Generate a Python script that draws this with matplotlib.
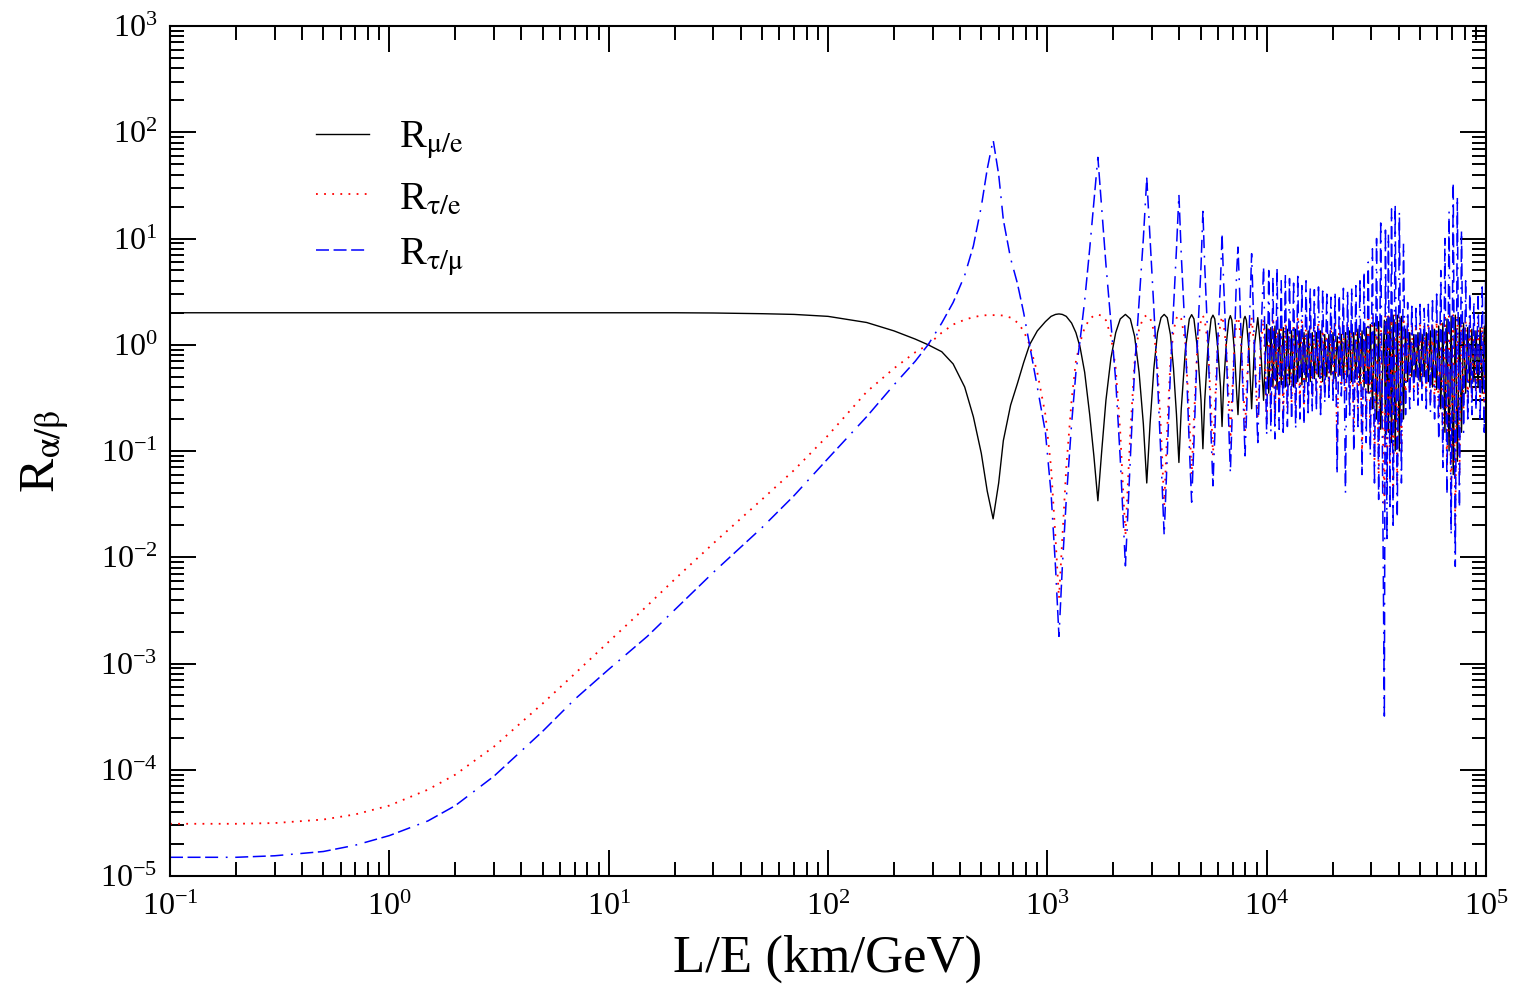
import matplotlib
matplotlib.use('Agg')
import matplotlib.pyplot as plt

plt.rcParams['font.family'] = ['Liberation Serif', 'DejaVu Serif']
plt.rcParams['mathtext.fontset'] = 'stix'
plt.rcParams['axes.unicode_minus'] = False

# smooth part of the curves, L/E in km/GeV
le_low = [0.1, 0.2, 0.3, 0.5, 0.7, 1.0, 1.5, 2.0, 3.0, 5.0, 7.0, 10, 15, 20, 30,
          50, 70, 100, 150, 200, 250]
r_mu_e_low = [2.0, 2.0, 2.0, 2.0, 2.0, 2.0, 2.0, 2.0, 2.0, 2.0, 2.0, 2.0, 2.0, 2.0,
              1.99, 1.96, 1.93, 1.85, 1.62, 1.35, 1.13]
r_tau_e_low = [3.1e-5, 3.1e-5, 3.15e-5, 3.4e-5, 3.8e-5, 4.6e-5, 6.5e-5, 9.0e-5,
               1.65e-4, 4.2e-4, 8.0e-4, 1.6e-3, 3.5e-3, 6.2e-3, 0.0135, 0.035,
               0.066, 0.14, 0.36, 0.6, 0.85]
r_tau_mu_low = [1.5e-5, 1.5e-5, 1.55e-5, 1.7e-5, 1.95e-5, 2.4e-5, 3.3e-5, 4.6e-5,
                8.7e-5, 2.3e-4, 4.6e-4, 8.8e-4, 1.8e-3, 3.2e-3, 7.2e-3, 0.019,
                0.038, 0.085, 0.21, 0.42, 0.7]

# first oscillations
le_osc = [286, 330, 372, 420, 460, 500, 532, 566, 600, 630,
          680, 730, 780, 830, 900, 980, 1040, 1090, 1130, 1170,
          1220, 1290, 1350, 1410, 1480, 1560, 1630, 1700, 1770, 1850,
          1950, 2050, 2150, 2270, 2390, 2500, 2620, 2740, 2840, 2940,
          3060, 3180, 3300, 3410, 3520, 3640, 3760, 3880, 3980, 4080,
          4260, 4440, 4550, 4660, 4840, 5020, 5120, 5220, 5400, 5580,
          5690, 5800, 5980, 6160, 6260, 6360, 6540, 6720, 6830, 6940,
          7150, 7300, 7400, 7500, 7700, 7880, 7970, 8080, 8300, 8540,
          8800, 9110, 9400, 9680]
r_mu_e_osc = [1.0, 0.86, 0.66, 0.4, 0.21, 0.095, 0.042, 0.023, 0.05, 0.125,
              0.27, 0.43, 0.68, 1.0, 1.35, 1.65, 1.85, 1.93, 1.95, 1.93,
              1.85, 1.6, 1.3, 0.95, 0.55, 0.22, 0.09, 0.034, 0.1, 0.3,
              0.75, 1.3, 1.75, 1.93, 1.75, 1.2, 0.55, 0.18, 0.05, 0.18,
              0.6, 1.3, 1.8, 1.93, 1.8, 1.25, 0.6, 0.22, 0.078, 0.25,
              0.9, 1.75, 1.92, 1.75, 0.9, 0.3, 0.105, 0.3, 0.95, 1.75,
              1.9, 1.75, 0.95, 0.4, 0.17, 0.4, 1.0, 1.7, 1.88, 1.7,
              0.8, 0.35, 0.22, 0.4, 1.1, 1.75, 1.85, 1.7, 0.9, 0.25,
              1.0, 1.8, 0.9, 0.3]
r_tau_e_osc = [1.0, 1.3, 1.55, 1.72, 1.82, 1.88, 1.9, 1.9, 1.9, 1.88,
               1.8, 1.62, 1.35, 1.0, 0.55, 0.22, 0.07, 0.015, 0.0041, 0.015,
               0.07, 0.3, 0.7, 1.05, 1.45, 1.75, 1.88, 1.92, 1.88, 1.7,
               1.2, 0.6, 0.15, 0.016, 0.15, 0.7, 1.4, 1.8, 1.9, 1.8,
               1.35, 0.6, 0.15, 0.031, 0.16, 0.7, 1.35, 1.78, 1.9, 1.75,
               1.05, 0.2, 0.06, 0.2, 1.05, 1.7, 1.88, 1.7, 1.0, 0.25,
               0.09, 0.25, 1.0, 1.6, 1.85, 1.6, 0.95, 0.3, 0.12, 0.3,
               1.15, 1.7, 1.82, 1.6, 0.8, 0.3, 0.15, 0.35, 1.0, 1.8,
               0.9, 0.2, 1.0, 1.75]
r_tau_mu_osc = [1.0, 1.6, 2.5, 4.5, 8.5, 20, 45, 85, 40, 15,
                6.5, 3.8, 2.0, 1.0, 0.4, 0.15, 0.04, 0.008, 0.0018, 0.008,
                0.035, 0.18, 0.55, 1.1, 2.6, 8, 22, 58, 19, 5.7,
                1.6, 0.46, 0.085, 0.0083, 0.085, 0.6, 2.5, 10, 37, 10,
                2.2, 0.46, 0.083, 0.016, 0.09, 0.55, 2.2, 8, 26, 7,
                1.15, 0.11, 0.033, 0.12, 1.15, 5.5, 18, 5.5, 1.05, 0.14,
                0.047, 0.14, 1.05, 4, 11, 4, 0.95, 0.18, 0.062, 0.18,
                1.4, 5, 8.3, 4, 0.75, 0.17, 0.09, 0.2, 1.1, 7.2,
                0.9, 0.12, 1.1, 5.3]

# fast oscillations above 10^4 km/GeV
le_dense = [10000, 10220, 10450, 10680, 10910, 11150, 11400, 11650, 11900, 12170,
            12430, 12710, 12990, 13270, 13560, 13860, 14170, 14480, 14800, 15120,
            15460, 15800, 16140, 16500, 16860, 17230, 17610, 18000, 18400, 18800,
            19220, 19640, 20070, 20510, 20960, 21430, 21900, 22380, 22870, 23370,
            23890, 24410, 24950, 25500, 26060, 26630, 27220, 27820, 28430, 29050,
            29690, 30350, 31010, 31700, 32400, 33110, 34400, 34800, 35340, 35900,
            36500, 37100, 37720, 38550, 39400, 40270, 41150, 42060, 42980, 43930,
            44890, 45880, 46890, 47920, 48970, 50050, 51150, 52270, 53420, 54600,
            55800, 57020, 58280, 59560, 60870, 62210, 63580, 64970, 66400, 67860,
            69350, 70880, 72440, 74030, 75660, 77320, 79020, 80760, 82540, 84350,
            86210, 88100, 90040, 92020, 94050, 96120, 98230, 100000]
r_mu_e_dense = [1.55, 0.35, 1.45, 0.4, 1.5, 0.38, 1.4, 0.42, 1.45, 0.4,
                1.4, 0.42, 1.35, 0.4, 1.4, 0.45, 1.35, 0.42, 1.3, 0.45,
                1.35, 0.45, 1.3, 0.48, 1.3, 0.5, 1.35, 0.45, 1.25, 0.5,
                1.25, 0.52, 1.3, 0.48, 1.2, 0.52, 1.25, 0.48, 1.3, 0.5,
                1.35, 0.45, 1.3, 0.48, 1.4, 0.42, 1.35, 0.4, 1.45, 0.35,
                1.55, 0.25, 1.6, 0.2, 1.65, 0.16, 1.7, 0.13, 1.75, 0.15,
                1.8, 0.12, 1.9, 0.1, 1.9, 0.1, 1.85, 0.2, 1.4, 0.45,
                1.3, 0.5, 1.25, 0.5, 1.3, 0.45, 1.25, 0.5, 1.3, 0.45,
                1.35, 0.4, 1.4, 0.38, 1.5, 0.25, 1.6, 0.15, 1.75, 0.1,
                1.85, 0.06, 1.9, 0.08, 1.8, 0.15, 1.6, 0.35, 1.45, 0.4,
                1.4, 0.45, 1.35, 0.4, 1.45, 0.35, 1.5, 0.3]
r_tau_e_dense = [0.2, 1.8, 0.22, 1.8, 0.2, 1.75, 0.25, 1.8, 0.22, 1.75,
                 0.25, 1.75, 0.28, 1.7, 0.25, 1.75, 0.3, 1.7, 0.28, 1.7,
                 0.3, 1.7, 0.32, 1.65, 0.35, 1.6, 0.3, 1.65, 0.38, 1.6,
                 0.4, 1.5, 0.38, 1.55, 0.12, 1.5, 0.4, 1.55, 0.35, 1.6,
                 0.3, 1.6, 0.15, 1.65, 0.25, 1.6, 0.1, 1.7, 0.2, 1.75,
                 0.15, 1.8, 0.08, 1.8, 0.06, 1.85, 0.03, 1.85, 0.05, 1.85,
                 0.06, 1.9, 0.04, 1.9, 0.05, 1.9, 0.1, 1.8, 0.3, 1.6,
                 0.35, 1.55, 0.4, 1.55, 0.35, 1.6, 0.4, 1.55, 0.35, 1.6,
                 0.3, 1.6, 0.28, 1.65, 0.2, 1.7, 0.12, 1.8, 0.07, 1.85,
                 0.03, 1.9, 0.02, 1.9, 0.06, 1.85, 0.25, 1.65, 0.3, 1.6,
                 0.3, 1.55, 0.35, 1.6, 0.3, 1.65, 0.25, 1.7]
r_tau_mu_dense = [0.14, 5.0, 0.15, 4.2, 0.13, 5.2, 0.16, 4.0, 0.15, 4.6,
                  0.17, 4.2, 0.2, 3.8, 0.16, 4.4, 0.2, 3.6, 0.18, 4.0,
                  0.21, 3.6, 0.23, 3.3, 0.25, 3.5, 0.22, 3.2, 0.28, 3.0,
                  0.32, 2.8, 0.3, 3.2, 0.06, 2.9, 0.33, 3.4, 0.04, 3.3,
                  0.2, 3.5, 0.1, 3.6, 0.17, 4.0, 0.06, 4.8, 0.12, 6.0,
                  0.09, 8.0, 0.05, 10, 0.035, 14, 0.00032, 12, 0.015, 11,
                  0.03, 19, 0.02, 20, 0.024, 18, 0.05, 9, 0.22, 2.5,
                  0.25, 2.3, 0.3, 2.2, 0.27, 2.4, 0.3, 2.2, 0.25, 2.4,
                  0.23, 2.6, 0.2, 3.0, 0.13, 5.0, 0.07, 10, 0.04, 18,
                  0.016, 33, 0.0082, 25, 0.03, 12, 0.15, 4.0, 0.2, 3.0,
                  0.22, 2.6, 0.25, 3.0, 0.2, 3.5, 0.15, 10]


def draw_ratios():
    """Draw the flavour ratios R_alpha/beta against L/E on log-log axes."""
    le = le_low + le_osc + le_dense
    r_mu_e = r_mu_e_low + r_mu_e_osc + r_mu_e_dense
    r_tau_e = r_tau_e_low + r_tau_e_osc + r_tau_e_dense
    r_tau_mu = r_tau_mu_low + r_tau_mu_osc + r_tau_mu_dense

    fig = plt.figure(figsize=(15.13, 9.86), dpi=100)
    ax = fig.add_axes([170 / 1513, 110 / 986, 1316 / 1513, 850 / 986])

    ax.plot(le, r_mu_e, color='black', lw=1.0, label=r'R$_{\mathrm{\mu/e}}$')
    ax.plot(le, r_tau_e, color='red', lw=1.3, ls=(0, (1, 3.5)),
            label=r'R$_{\mathrm{\tau/e}}$')
    ax.plot(le, r_tau_mu, color='blue', lw=1.1,
            ls=(0, (8.5, 3, 8.5, 3, 8.5, 5, 1.2, 5)),
            label=r'R$_{\mathrm{\tau/\mu}}$')

    ax.set_xscale('log')
    ax.set_yscale('log')
    ax.set_xlim(0.1, 1e5)
    ax.set_ylim(1e-5, 1e3)

    ax.set_xlabel('L/E (km/GeV)', fontsize=38, labelpad=9)
    ax.set_ylabel(r'R$_{\mathrm{\alpha/\beta}}$', fontsize=37, labelpad=20)

    # grace-like frame: ticks inside on all four sides
    for side in ['left', 'right', 'top', 'bottom']:
        ax.spines[side].set_linewidth(1.5)
    ax.tick_params(which='both', direction='in', top=True, right=True, width=1.4)
    ax.tick_params(which='major', length=19, labelsize=23)
    ax.tick_params(axis='x', which='major', pad=12)
    ax.tick_params(axis='y', which='major', pad=9)
    ax.tick_params(which='minor', length=10)

    ax.legend(loc='upper left', bbox_to_anchor=(0.111, 0.89), frameon=False,
              fontsize=29, handlelength=1.32, handletextpad=0.75,
              labelspacing=0.47, borderpad=0, borderaxespad=0)

    fig.savefig('out.png', dpi=100)


if __name__ == "__main__":
    draw_ratios()
